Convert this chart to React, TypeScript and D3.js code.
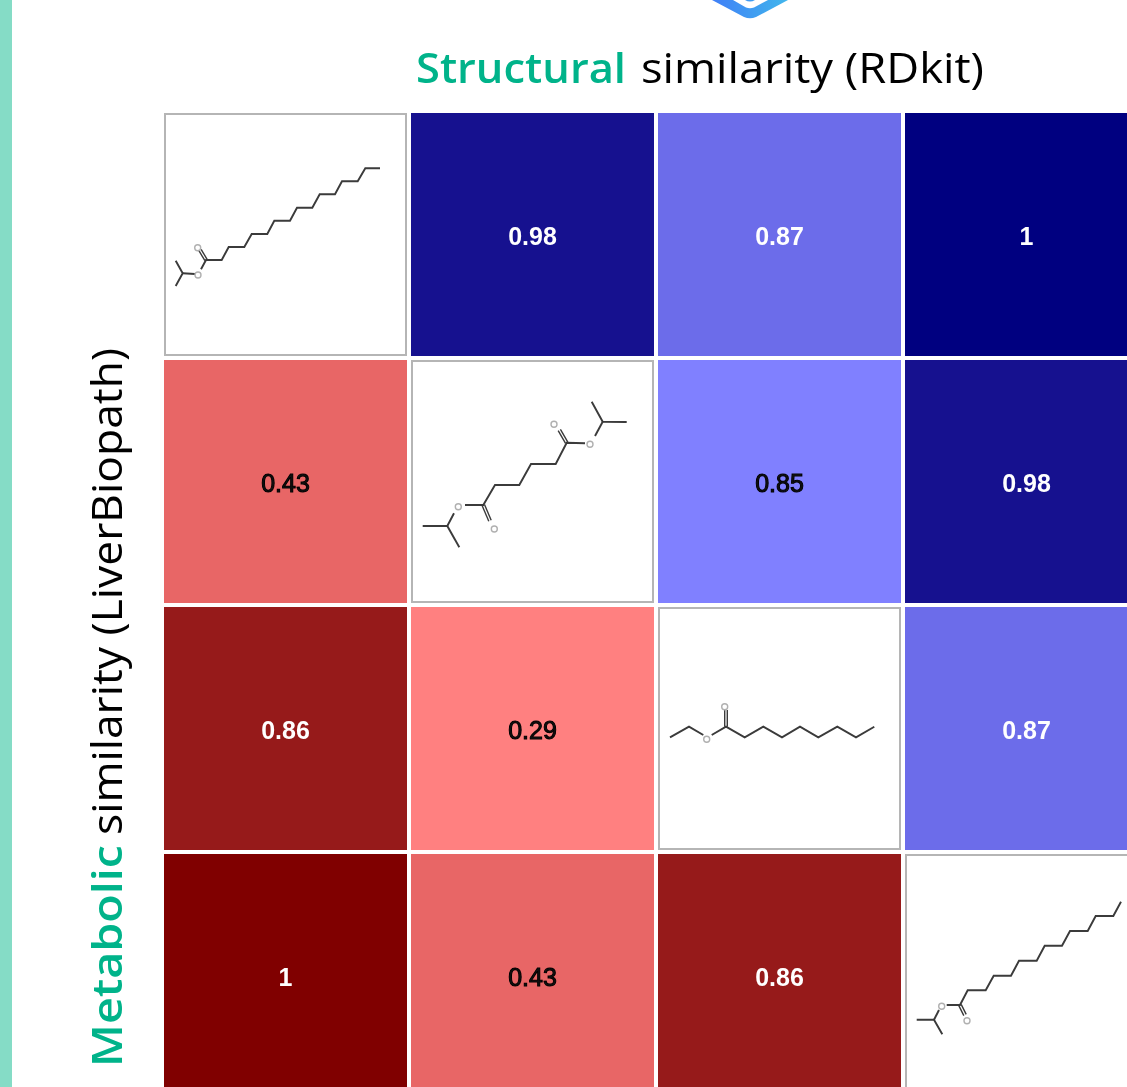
import React from "react";
import * as d3 from "d3";

const W = 1127, H = 1087;
const labels = ["a", "b", "c", "d"];
const values: (number | null)[][] = [
  [null, 0.98, 0.87, 1],
  [0.43, null, 0.85, 0.98],
  [0.86, 0.29, null, 0.87],
  [1, 0.43, 0.86, null],
];
const blueValues = [0.85, 0.87, 0.98, 1];
const blueColors = ["#8080ff", "#6c6cea", "#16118f", "#000080"];
const redValues = [0.29, 0.43, 0.86, 1];
const redColors = ["#ff8080", "#e86666", "#961a1a", "#800000"];

type P = [number, number];
type Mol = { bonds: P[][]; doubles: P[][]; oxy: P[] };
const mol1: Mol = {
  bonds: [
    [[11.7, 147.7], [18.7, 160.3], [11.7, 173]],
    [[18.7, 160.3], [31, 161]],
    [[37, 156.3], [42, 147], [57.7, 147], [64.7, 134], [80.3, 134], [87.7, 121], [103.3, 121], [110.3, 107.7], [126, 107.7], [133, 94.7], [148.3, 94.7], [155.7, 81.3], [171, 81.3], [178, 68.3], [193.7, 68.3], [201.3, 55.3], [216, 55.3]],
  ],
  doubles: [[[42, 147], [36, 137]]],
  oxy: [[34, 162], [33.7, 134.7]],
};
const mol2: Mol = {
  bonds: [
    [[180.7, 41.7], [191.7, 61.7], [215.7, 62]],
    [[191.7, 61.7], [184, 76]],
    [[174, 83.3], [155.7, 82.7], [144.7, 104], [120, 104], [108.3, 125], [84, 125], [72.3, 145], [54, 145]],
    [[43, 153.3], [36.3, 166], [11.7, 166]],
    [[36.3, 166], [48.3, 187.3]],
  ],
  doubles: [[[155.7, 82.7], [148.3, 70]], [[72.3, 145], [79, 160.7]]],
  oxy: [[179, 84.3], [143, 64.3], [47.3, 146.7], [83.3, 169]],
};
const mol3: Mol = {
  bonds: [
    [[12, 130.3], [31, 119.7], [45.3, 128]],
    [[53.7, 128], [68, 119.7], [86.7, 130.3], [105.3, 119.7], [124, 130.3], [142, 119.7], [160.3, 130.3], [179.3, 119.7], [198, 130.3], [216.3, 119.7]],
  ],
  doubles: [[[68, 119.7], [68, 103]]],
  oxy: [[48.7, 132.3], [66.7, 99.7]],
};
const mol4: Mol = {
  bonds: [
    [[11.7, 165.7], [29, 165.7], [37.3, 180.3]],
    [[29, 165.7], [34, 156]],
    [[41.7, 151], [55, 151], [62.7, 136.3], [80.7, 136.3], [88.7, 121.7], [106, 121.7], [114, 106.7], [131.7, 106.7], [139.7, 91.7], [157, 91.7], [165, 77], [182.7, 77], [190.7, 62], [208.3, 62], [216, 47.7]],
  ],
  doubles: [[[55, 151], [60, 161]]],
  oxy: [[36.7, 152.3], [62, 166.7]],
};
const molecules = [mol1, mol2, mol3, mol4];

const x = d3.scaleBand<string>().domain(labels).range([162, 1150]).paddingInner(4 / 247).paddingOuter(2 / 247);
const y = d3.scaleBand<string>().domain(labels).range([111, 1099]).paddingInner(4 / 247).paddingOuter(2 / 247);
const cellUnit = d3.scaleLinear().domain([0, 243]).range([0, x.bandwidth()]);
const blue = d3.scaleOrdinal<number, string>().domain(blueValues).range(blueColors);
const red = d3.scaleOrdinal<number, string>().domain(redValues).range(redColors);
const line = d3.line<P>().x((d) => cellUnit(d[0])).y((d) => cellUnit(d[1]));

function doublePair(b: P[]): string[] {
  const [a, c] = b;
  const dx = c[0] - a[0], dy = c[1] - a[1];
  const len = Math.hypot(dx, dy);
  const nx = (-dy / len) * 1.3, ny = (dx / len) * 1.3;
  return [
    line([[a[0] + nx, a[1] + ny], [c[0] + nx, c[1] + ny]])!,
    line([[a[0] - nx, a[1] - ny], [c[0] - nx, c[1] - ny]])!,
  ];
}

export default function App() {
  const font = "'Open Sans', 'Noto Sans', sans-serif";
  return (
    <svg width={W} height={H} viewBox={`0 0 ${W} ${H}`} style={{ position: "fixed", left: 0, top: 0, background: "#fff" }}>
      <defs>
        <filter id="soft" x="-10%" y="-10%" width="120%" height="120%">
          <feGaussianBlur stdDeviation="0.6" />
        </filter>
        <filter id="softer" x="-10%" y="-10%" width="120%" height="120%">
          <feGaussianBlur stdDeviation="0.45" />
        </filter>
        <linearGradient id="logo" gradientUnits="userSpaceOnUse" x1="712" x2="788" y1="0" y2="0">
          <stop offset="0%" stopColor="#3f7ff7" />
          <stop offset="100%" stopColor="#42b6ec" />
        </linearGradient>
      </defs>
      <rect x={0} y={0} width={12} height={H} fill="#85dcc6" />
      <path d="M712,0 L744,17 Q750,19.5 756,17 L788,0 L768,0 L754,7.5 Q750,9 746,7.5 L733,0 Z M745,0 Q750,3 755,0 Z" fill="url(#logo)" filter="url(#softer)" />
      <g fontFamily={font} fontSize={42} filter="url(#softer)">
        <text x={416} y={83} fill="#00b38a" fontWeight={600} textLength={210} lengthAdjust="spacingAndGlyphs">Structural</text>
        <text x={641} y={83} fill="#000" textLength={343} lengthAdjust="spacingAndGlyphs">similarity (RDkit)</text>
        <text transform="translate(122,1067) rotate(-90)" fill="#00b38a" fontWeight={600} textLength={222} lengthAdjust="spacingAndGlyphs">Metabolic</text>
        <text transform="translate(122,835) rotate(-90)" fill="#000" textLength={487} lengthAdjust="spacingAndGlyphs">similarity (LiverBiopath)</text>
      </g>
      {labels.map((rk, r) =>
        labels.map((ck, c) => {
          const v = values[r][c];
          const cx = x(ck)!, cy = y(rk)!, bw = x.bandwidth();
          if (v === null) {
            const m = molecules[r];
            return (
              <g key={ck + rk} transform={`translate(${cx},${cy})`}>
                <rect x={1} y={1} width={bw - 2} height={bw - 2} fill="#fff" stroke="#b5b5b5" strokeWidth={2} />
                <g filter="url(#soft)" fill="none" stroke="#3a3a3a" strokeWidth={1.9} strokeLinejoin="miter">
                  {m.bonds.map((b, i) => <path key={i} d={line(b)!} />)}
                  {m.doubles.flatMap((b, i) => doublePair(b).map((d, j) => <path key={`${i}-${j}`} d={d} strokeWidth={1.4} />))}
                  {m.oxy.map((o, i) => (
                    <circle key={i} cx={cellUnit(o[0])} cy={cellUnit(o[1])} r={3} stroke="#b0b0b0" strokeWidth={1.4} />
                  ))}
                </g>
              </g>
            );
          }
          const fill = c > r ? blue(v) : red(v);
          const light = v > 0.85;
          return (
            <g key={ck + rk} transform={`translate(${cx},${cy})`}>
              <rect width={bw} height={bw} fill={fill} />
              <text
                x={bw / 2}
                y={bw / 2 + 2}
                dy="0.35em"
                textAnchor="middle"
                fontFamily="'Liberation Sans', Arial, sans-serif"
                fontSize={25}
                fontWeight={light ? 700 : 400}
                stroke={light ? "none" : "#000"}
                strokeWidth={light ? 0 : 1}
                fill={light ? "#fff" : "#111"}
                filter="url(#soft)"
              >
                {String(v)}
              </text>
            </g>
          );
        })
      )}
    </svg>
  );
}
